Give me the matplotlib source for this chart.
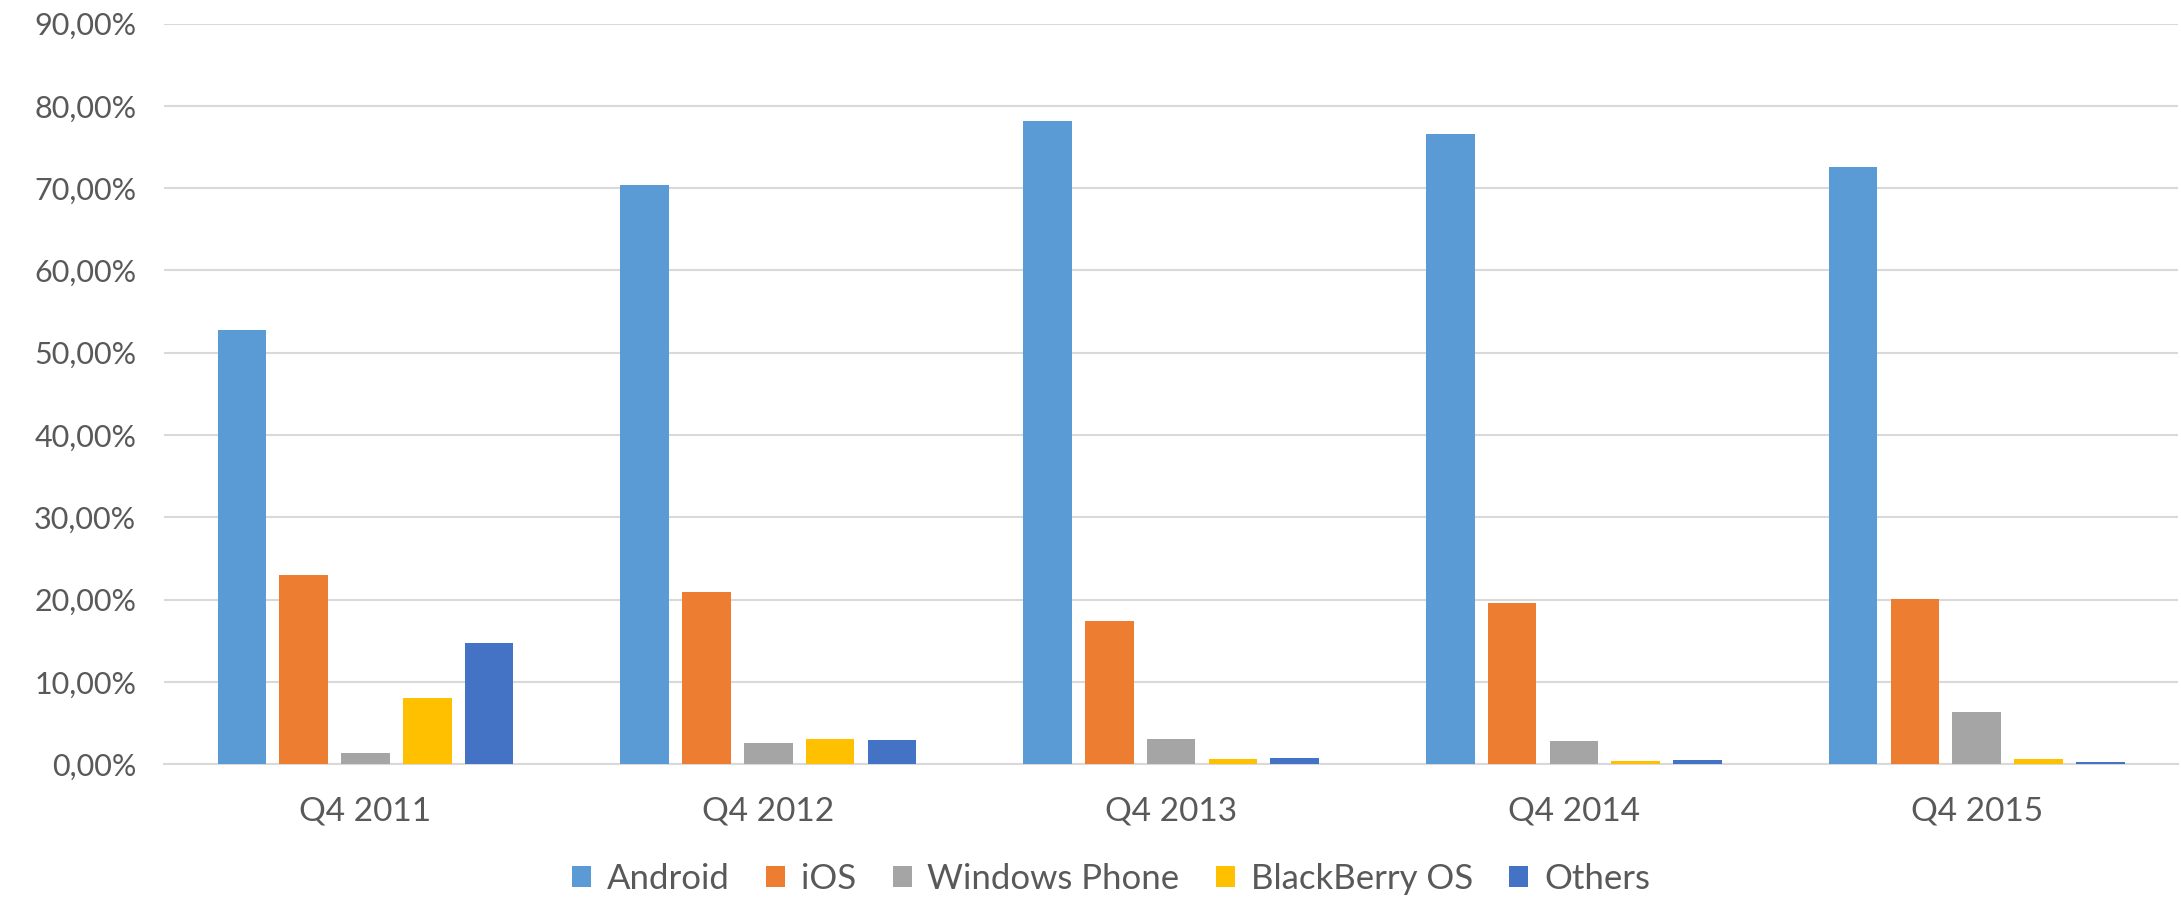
import numpy as np
import matplotlib
matplotlib.use("Agg")
import matplotlib.pyplot as plt
from matplotlib.patches import Patch
from matplotlib.ticker import FuncFormatter

# market share per quarter (percent)
quarters = ["Q4 2011", "Q4 2012", "Q4 2013", "Q4 2014", "Q4 2015"]
android = [52.8, 70.4, 78.2, 76.6, 72.6]
ios = [23.0, 20.9, 17.4, 19.6, 20.1]
windows_phone = [1.4, 2.6, 3.0, 2.8, 6.3]
blackberry = [8.1, 3.1, 0.6, 0.4, 0.6]
others = [14.7, 2.9, 0.8, 0.5, 0.3]

series_names = ["Android", "iOS", "Windows Phone", "BlackBerry OS", "Others"]
series_values = [android, ios, windows_phone, blackberry, others]
colors = ["#5B9BD5", "#ED7D31", "#A5A5A5", "#FFC000", "#4472C4"]

text_color = "#595959"
plt.rcParams['font.family'] = ['Lato', 'DejaVu Sans']

fig = plt.figure(figsize=(21.81, 8.99), dpi=100)
ax = fig.add_axes([0.0752, 0.150, 0.9235, 0.8237])

x = np.arange(len(quarters))
slot = 0.1534
bar_w = 0.1207
for i, (name, vals) in enumerate(zip(series_names, series_values)):
    offset = (i - 2) * slot
    ax.bar(x + offset, vals, width=bar_w, color=colors[i], label=name, zorder=3)

ax.set_xlim(-0.5, len(quarters) - 0.5)
ax.set_ylim(0, 90)
ax.set_yticks(np.arange(0, 91, 10))
ax.yaxis.set_major_formatter(FuncFormatter(lambda v, p: f"{v:.2f}".replace(".", ",") + "%"))
ax.grid(axis="y", color="#D9D9D9", linewidth=1.5, zorder=0)
ax.set_xticks(x)
ax.set_xticklabels(quarters)

for side in ["top", "right", "left"]:
    ax.spines[side].set_visible(False)
ax.spines["bottom"].set_color("#D9D9D9")
ax.spines["bottom"].set_linewidth(1.5)

ax.tick_params(axis="both", length=0, labelsize=22, colors=text_color)
ax.tick_params(axis="x", labelsize=24, pad=23)
ax.tick_params(axis="y", pad=20)

handles = [Patch(facecolor=c, label=n) for c, n in zip(colors, series_names)]
fig.legend(handles=handles, loc="center", bbox_to_anchor=(1111 / 2181, 1 - 879 / 899),
           ncol=5, frameon=False, fontsize=25, labelcolor=text_color,
           handlelength=0.55, handleheight=0.55, handletextpad=0.45, columnspacing=1.05)

fig.savefig("out.png", dpi=100)
